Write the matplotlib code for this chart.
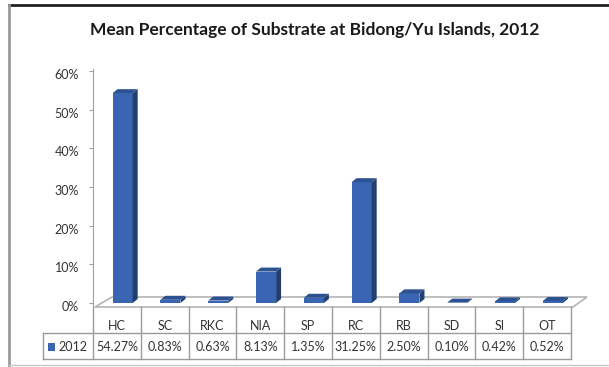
import matplotlib.pyplot as plt
from matplotlib.patches import Polygon, Rectangle
from matplotlib.lines import Line2D
from matplotlib.transforms import ScaledTranslation

plt.rcParams["font.family"] = ["Lato", "DejaVu Sans"]

categories = ["HC", "SC", "RKC", "NIA", "SP", "RC", "RB", "SD", "SI", "OT"]
values = [54.27, 0.83, 0.63, 8.13, 1.35, 31.25, 2.50, 0.10, 0.42, 0.52]
series_name = "2012"
title = "Mean Percentage of Substrate at Bidong/Yu Islands, 2012"
yticks = [0, 10, 20, 30, 40, 50, 60]

FRONT = "#3a65b2"
SIDE = "#22406f"
TOP = "#2c5291"
GRID = "#9a9a9a"
TEXT = "#333333"

W, H = 609, 367
fig = plt.figure(figsize=(W / 100, H / 100), dpi=100)

# axes box in pixels: x 93..571, y 71..303 (0% at bottom)
left, right, top, bottom = 93, 571, 71, 303
ax = fig.add_axes([left / W, 1 - bottom / H, (right - left) / W, (bottom - top) / H])
ax.set_xlim(-0.5, len(categories) - 0.5)
ax.set_ylim(0, 60)

px_x = (right - left) / len(categories)
px_y = (bottom - top) / 60.0


def dy(p):
    # pixel distance below the 0% line -> data units
    return -p / px_y


# floor of the 3D plot
floor = Polygon(
    [(-0.46, dy(4)), (-0.5 + 19 / px_x, dy(-6)),
     (len(categories) - 0.5 + 16 / px_x, dy(-6)), (len(categories) - 0.46, dy(4))],
    closed=True, facecolor="white", edgecolor="#b4b4b4", lw=1.2, clip_on=False, zorder=1)
ax.add_patch(floor)

# 3D columns: front face from ax.bar, side and top faces as polygons
width = 0.42
shift = 0.12
ddx = 5 / px_x
ddy = 4 / px_y
xs = [i + shift for i in range(len(categories))]
ax.bar(xs, values, width=width, color=FRONT, zorder=3)
for x, v in zip(xs, values):
    l, r = x - width / 2, x + width / 2
    ax.add_patch(Polygon([(r, 0), (r + ddx, ddy), (r + ddx, v + ddy), (r, v)],
                         closed=True, facecolor=SIDE, edgecolor="none", zorder=3, clip_on=False))
    ax.add_patch(Polygon([(l, v), (l + ddx, v + ddy), (r + ddx, v + ddy), (r, v)],
                         closed=True, facecolor=TOP, edgecolor="none", zorder=3, clip_on=False))

for s in ["top", "right", "bottom"]:
    ax.spines[s].set_visible(False)
ax.spines["left"].set_color("#a0a0a0")
ax.spines["left"].set_bounds(0 - 1, 60 + 0.5)
ax.set_xticks([])
ax.set_yticks(yticks)
ax.set_yticklabels([f"{t}%" for t in yticks], fontsize=9, color=TEXT)
ax.tick_params(axis="y", length=3, color="#a0a0a0", pad=7)
for lab in ax.get_yticklabels():
    lab.set_transform(lab.get_transform() + ScaledTranslation(0, -3 / 100, fig.dpi_scale_trans))

# data table under the plot
n = len(categories)
row0, row1, row2 = dy(4), dy(30), dy(56)
leg_left = -0.5 - 50 / px_x
kw = dict(color=GRID, lw=1.0, clip_on=False, zorder=2)
ax.plot([leg_left, n - 0.5], [row1, row1], **kw)
ax.plot([leg_left, n - 0.5], [row2, row2], **kw)
ax.plot([leg_left, leg_left], [row1, row2], **kw)
for i in range(n + 1):
    ax.plot([i - 0.5, i - 0.5], [row0, row2], **kw)
for i, (c, v) in enumerate(zip(categories, values)):
    ax.text(i, dy(23), c, ha="center", va="center", fontsize=9, color=TEXT, clip_on=False)
    ax.text(i, dy(44), f"{v:.2f}%", ha="center", va="center", fontsize=9, color=TEXT,
            clip_on=False)
ax.add_patch(Rectangle((leg_left + 5 / px_x, dy(48)), 7 / px_x, 8 / px_y, facecolor=FRONT,
                       edgecolor="none", clip_on=False))
ax.text(leg_left + 15 / px_x, dy(44), series_name, ha="left", va="center", fontsize=9,
        color=TEXT, clip_on=False)

fig.text(315 / W, 1 - 30 / H, title, ha="center", va="center", fontsize=12.5,
         fontweight="bold", color="#1a1a1a")

# outer frame
fig.add_artist(Line2D([9 / W, 1], [1 - 5 / H, 1 - 5 / H], color="#222222", lw=2))
fig.add_artist(Line2D([9 / W, 9 / W], [0, 1 - 5 / H], color="#9a9a9a", lw=2))
fig.add_artist(Line2D([9 / W, 1], [1 - 365 / H, 1 - 365 / H], color="#c8c8c8", lw=1))

fig.savefig("out.png", dpi=100)
